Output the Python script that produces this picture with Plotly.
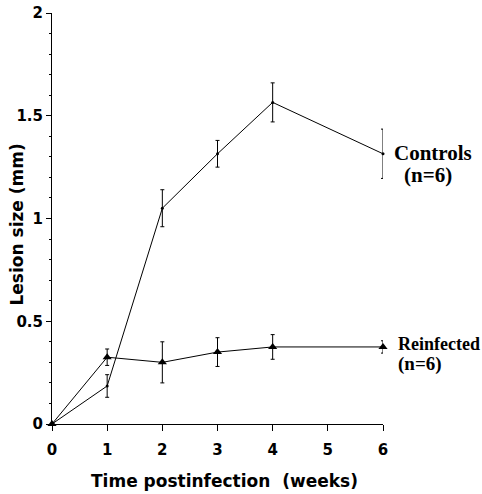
import plotly.graph_objects as go

weeks_controls = [0, 1, 2, 3, 4, 6]
controls = [0, 0.185, 1.05, 1.315, 1.565, 1.315]
controls_err = [0, 0.055, 0.09, 0.065, 0.095, 0.12]

weeks_reinf = [0, 1, 2, 3, 4, 6]
reinfected = [0, 0.325, 0.30, 0.35, 0.375, 0.375]
reinf_err = [0, 0.04, 0.10, 0.07, 0.06, 0.03]

x_ticks = [0, 1, 2, 3, 4, 5, 6]
y_ticks = [0, 0.5, 1, 1.5, 2]
y_tick_labels = ["0", "0.5", "1", "1.5", "2"]

fig = go.Figure()
fig.add_trace(go.Scatter(
    x=weeks_controls, y=controls, mode="lines+markers",
    line=dict(color="black", width=1),
    marker=dict(symbol="circle", size=3, color="black"),
    error_y=dict(type="data", array=controls_err, color="black", thickness=1, width=2),
    cliponaxis=False, showlegend=False))
fig.add_trace(go.Scatter(
    x=weeks_reinf, y=reinfected, mode="lines+markers",
    line=dict(color="black", width=1),
    marker=dict(symbol="triangle-up", size=8, color="black"),
    error_y=dict(type="data", array=reinf_err, color="black", thickness=1, width=2),
    cliponaxis=False, showlegend=False))

serif = "Liberation Serif"
sans = "DejaVu Sans"
def lab(y, text, xshift, yshift, size):
    fig.add_annotation(x=6, y=y, xref="x", yref="y", text="<b>%s</b>" % text,
                       showarrow=False, xanchor="left", yanchor="middle",
                       xshift=xshift, yshift=yshift,
                       font=dict(family=serif, size=size, color="black"))

lab(controls[-1], "Controls", 9, 1, 21)
lab(controls[-1], "(n=6)", 19, -21, 21)
lab(reinfected[-1], "Reinfected", 13, 3, 18)
lab(reinfected[-1], "(n=6)", 13, -17, 19)

fig.add_annotation(x=0.52, y=0, xref="paper", yref="paper", yshift=-57,
                   text="<b>Time postinfection  (weeks)</b>", showarrow=False,
                   xanchor="center", yanchor="middle",
                   font=dict(family=sans, size=17, color="black"))
fig.add_annotation(x=0, y=0.5, xref="paper", yref="paper", xshift=-36, yshift=-6,
                   text="<b>Lesion size (mm)</b>", showarrow=False, textangle=-90,
                   xanchor="center", yanchor="middle",
                   font=dict(family=sans, size=17, color="black"))

fig.update_layout(
    width=482, height=494, margin=dict(l=52, r=99, t=13, b=70),
    paper_bgcolor="white", plot_bgcolor="white",
    font=dict(family=sans, color="black"),
    xaxis=dict(range=[0, 6], tickvals=x_ticks, ticktext=["<b>%d</b>" % v for v in x_ticks],
               showline=True, linecolor="black", linewidth=1, automargin=False,
               ticks="outside", ticklen=6, tickcolor="black", showgrid=False, zeroline=False,
               ticklabelstandoff=6, tickfont=dict(size=15, family=sans)),
    yaxis=dict(range=[0, 2], tickvals=y_ticks, ticktext=["<b>%s</b>" % t for t in y_tick_labels],
               showline=True, linecolor="black", linewidth=1, automargin=False,
               ticks="outside", ticklen=5, tickcolor="black", showgrid=False, zeroline=False,
               minor=dict(dtick=0.1, ticks="outside", ticklen=2, tickcolor="black"),
               tickfont=dict(size=15, family=sans)),
)
fig.write_html("out.html")
